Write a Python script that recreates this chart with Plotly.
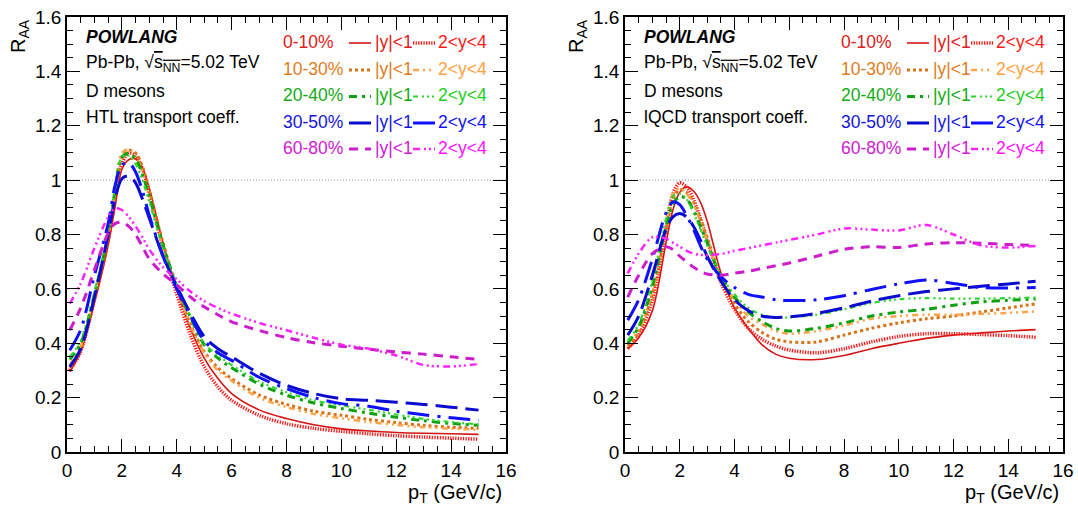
import plotly.graph_objects as go

# ---------------- data ----------------
pt = [0.1, 0.5, 1.0, 1.5, 1.75, 2.0, 2.25, 2.5, 2.75, 3.0, 3.5, 4.0, 4.5, 5.0, 5.5,
      6.0, 7.0, 8.0, 9.0, 10.0, 11.0, 12.0, 13.0, 14.0, 15.0]

# HTL transport coefficient (left panel)
htl_0_10_mid = [0.295, 0.37, 0.55, 0.76, 0.90, 1.04, 1.075, 1.078, 1.045, 0.97, 0.77, 0.60, 0.455, 0.345, 0.27,
                0.215, 0.155, 0.123, 0.10, 0.085, 0.077, 0.072, 0.069, 0.067, 0.065]
htl_0_10_fwd = [0.30, 0.37, 0.56, 0.78, 0.93, 1.06, 1.10, 1.09, 1.04, 0.95, 0.75, 0.58, 0.43, 0.314, 0.24,
                0.19, 0.135, 0.104, 0.087, 0.076, 0.067, 0.060, 0.055, 0.051, 0.047]
htl_10_30_mid = [0.31, 0.38, 0.57, 0.79, 0.95, 1.08, 1.11, 1.10, 1.05, 0.96, 0.77, 0.605, 0.47, 0.37, 0.31,
                 0.27, 0.21, 0.175, 0.15, 0.135, 0.12, 0.108, 0.098, 0.091, 0.087]
htl_10_30_fwd = [0.32, 0.39, 0.58, 0.80, 0.97, 1.10, 1.113, 1.09, 1.03, 0.94, 0.75, 0.60, 0.465, 0.365, 0.30,
                 0.262, 0.20, 0.165, 0.14, 0.124, 0.11, 0.10, 0.091, 0.086, 0.082]
htl_20_40_mid = [0.34, 0.40, 0.58, 0.80, 0.96, 1.085, 1.098, 1.08, 1.02, 0.94, 0.76, 0.61, 0.495, 0.395, 0.345,
                 0.31, 0.25, 0.209, 0.18, 0.16, 0.143, 0.128, 0.115, 0.105, 0.098]
htl_20_40_fwd = [0.35, 0.41, 0.59, 0.81, 0.97, 1.085, 1.09, 1.06, 1.00, 0.92, 0.75, 0.61, 0.50, 0.40, 0.355,
                 0.32, 0.26, 0.22, 0.19, 0.172, 0.155, 0.138, 0.122, 0.11, 0.102]
htl_30_50_mid = [0.313, 0.38, 0.57, 0.80, 0.93, 1.005, 1.015, 0.99, 0.93, 0.86, 0.72, 0.61, 0.51, 0.425, 0.38,
                 0.35, 0.29, 0.245, 0.215, 0.196, 0.19, 0.183, 0.175, 0.165, 0.154]
htl_30_50_fwd = [0.374, 0.45, 0.65, 0.84, 0.98, 1.055, 1.064, 1.03, 0.96, 0.87, 0.72, 0.60, 0.50, 0.41, 0.365,
                 0.337, 0.275, 0.233, 0.20, 0.178, 0.168, 0.15, 0.137, 0.126, 0.117]
htl_60_80_mid = [0.448, 0.53, 0.67, 0.805, 0.84, 0.845, 0.83, 0.80, 0.755, 0.71, 0.655, 0.615, 0.57, 0.534, 0.505,
                 0.479, 0.447, 0.421, 0.402, 0.389, 0.378, 0.368, 0.36, 0.35, 0.341]
htl_60_80_fwd = [0.546, 0.62, 0.75, 0.865, 0.896, 0.89, 0.865, 0.83, 0.79, 0.745, 0.68, 0.635, 0.59, 0.555, 0.53,
                 0.509, 0.475, 0.448, 0.42, 0.395, 0.38, 0.355, 0.32, 0.315, 0.323]

# lQCD transport coefficient (right panel)
lqcd_0_10_mid = [0.38, 0.42, 0.52, 0.77, 0.89, 0.955, 0.975, 0.96, 0.92, 0.85, 0.66, 0.53, 0.455, 0.395, 0.36,
                 0.345, 0.34, 0.355, 0.38, 0.40, 0.418, 0.43, 0.438, 0.445, 0.45]
lqcd_0_10_fwd = [0.38, 0.43, 0.56, 0.82, 0.95, 0.99, 0.975, 0.93, 0.86, 0.78, 0.625, 0.525, 0.455, 0.415, 0.39,
                 0.375, 0.365, 0.38, 0.405, 0.425, 0.435, 0.435, 0.432, 0.428, 0.422]
lqcd_10_30_mid = [0.39, 0.44, 0.58, 0.82, 0.93, 0.965, 0.955, 0.92, 0.86, 0.79, 0.64, 0.545, 0.48, 0.44, 0.415,
                  0.405, 0.405, 0.43, 0.455, 0.475, 0.49, 0.50, 0.515, 0.53, 0.545]
lqcd_10_30_fwd = [0.40, 0.45, 0.59, 0.84, 0.95, 0.97, 0.95, 0.91, 0.85, 0.78, 0.645, 0.56, 0.50, 0.47, 0.445,
                  0.435, 0.445, 0.465, 0.49, 0.50, 0.505, 0.505, 0.508, 0.512, 0.517]
lqcd_20_40_mid = [0.40, 0.46, 0.61, 0.83, 0.91, 0.94, 0.93, 0.89, 0.83, 0.77, 0.645, 0.57, 0.515, 0.48, 0.455,
                  0.445, 0.455, 0.475, 0.50, 0.515, 0.525, 0.54, 0.552, 0.558, 0.563]
lqcd_20_40_fwd = [0.41, 0.47, 0.63, 0.86, 0.94, 0.95, 0.93, 0.88, 0.82, 0.76, 0.65, 0.58, 0.53, 0.505, 0.495,
                  0.495, 0.505, 0.525, 0.548, 0.562, 0.566, 0.564, 0.564, 0.566, 0.568]
lqcd_30_50_mid = [0.43, 0.50, 0.65, 0.82, 0.865, 0.877, 0.865, 0.83, 0.78, 0.72, 0.63, 0.56, 0.52, 0.50, 0.495,
                  0.497, 0.51, 0.53, 0.555, 0.575, 0.59, 0.60, 0.61, 0.618, 0.628]
lqcd_30_50_fwd = [0.485, 0.56, 0.71, 0.88, 0.92, 0.91, 0.87, 0.82, 0.76, 0.71, 0.645, 0.605, 0.58, 0.57, 0.56,
                  0.557, 0.56, 0.575, 0.598, 0.618, 0.633, 0.62, 0.605, 0.603, 0.605]
lqcd_60_80_mid = [0.57, 0.65, 0.73, 0.755, 0.745, 0.72, 0.70, 0.68, 0.665, 0.655, 0.65, 0.658, 0.665, 0.675, 0.685,
                  0.695, 0.72, 0.745, 0.755, 0.752, 0.765, 0.77, 0.768, 0.763, 0.76]
lqcd_60_80_fwd = [0.657, 0.73, 0.79, 0.785, 0.77, 0.755, 0.74, 0.73, 0.725, 0.724, 0.728, 0.74, 0.75, 0.76, 0.77,
                  0.78, 0.80, 0.822, 0.818, 0.815, 0.835, 0.80, 0.76, 0.752, 0.758]

centralities = ["0-10%", "10-30%", "20-40%", "30-50%", "60-80%"]
rap_labels = ["|y|<1", "2<y<4"]
x_ticks = [0, 2, 4, 6, 8, 10, 12, 14, 16]
y_ticks = [0, 0.2, 0.4, 0.6, 0.8, 1.0, 1.2, 1.4, 1.6]
unity = 1.0

htl_curves = [(htl_0_10_mid, htl_0_10_fwd), (htl_10_30_mid, htl_10_30_fwd), (htl_20_40_mid, htl_20_40_fwd),
              (htl_30_50_mid, htl_30_50_fwd), (htl_60_80_mid, htl_60_80_fwd)]
lqcd_curves = [(lqcd_0_10_mid, lqcd_0_10_fwd), (lqcd_10_30_mid, lqcd_10_30_fwd), (lqcd_20_40_mid, lqcd_20_40_fwd),
               (lqcd_30_50_mid, lqcd_30_50_fwd), (lqcd_60_80_mid, lqcd_60_80_fwd)]

# ---------------- styles ----------------
styles = [
    (("#d41515", 1.6, "solid"), ("#ff1a1a", 3.5, "1.3px,1.3px")),
    (("#d77318", 3.0, "3px,3px"), ("#ffa448", 2.5, "6px,4px,2px,4px,2px,4px")),
    (("#0ea00e", 3.0, "8px,5px,3px,5px"), ("#2fd62f", 2.2, "5px,4px,2px,3px,2px,3px,2px,4px")),
    (("#0b0bd0", 3.0, "22px,8px"), ("#1010ff", 3.0, "22px,8px,3px,8px")),
    (("#cc1ccc", 3.0, "9px,7px"), ("#ff22ff", 2.5, "7px,4px,2px,3px,2px,3px,2px,4px")),
]
text_colors = [("#dd2020", "#ff1a1a"), ("#e07c22", "#ffa040"), ("#14aa14", "#22cc22"),
               ("#1515d8", "#1212f0"), ("#d020d0", "#ff10ff")]

FONT = "Liberation Sans, Arial, Helvetica, sans-serif"
W, H = 1078, 505


def px(x):
    return x / W


def py(y):
    return 1 - y / H


fig = go.Figure()

panels = [("x", "y", htl_curves), ("x2", "y2", lqcd_curves)]
for xa, ya, curves in panels:
    fig.add_trace(go.Scatter(x=[x_ticks[0], x_ticks[-1]], y=[unity, unity], mode="lines",
                             line=dict(color="#9a9a9a", width=1, dash="1px,2px"),
                             xaxis=xa, yaxis=ya, showlegend=False, hoverinfo="skip"))
    for i, (mid, fwd) in enumerate(curves):
        for j, vals in enumerate((mid, fwd)):
            c, w, d = styles[i][j]
            fig.add_trace(go.Scatter(x=pt, y=vals, mode="lines",
                                     line=dict(color=c, width=w, dash=d, shape="spline", smoothing=0.9),
                                     xaxis=xa, yaxis=ya, showlegend=False,
                                     name=centralities[i] + " " + rap_labels[j]))

# ---------------- layout ----------------
frame_l = [67, 625]
frame_r = [506, 1063]
frame_t, frame_b = 17, 452

axis_common = dict(
    showline=True, linecolor="black", linewidth=1.5, mirror="ticks",
    ticks="inside", ticklen=13, tickwidth=1.2, tickcolor="black",
    showgrid=False, zeroline=False, automargin=False,
    tickfont=dict(family=FONT, size=19, color="black"),
)

layout = dict(
    width=W, height=H, margin=dict(l=0, r=0, t=0, b=0, pad=0, autoexpand=False),
    paper_bgcolor="white", plot_bgcolor="white", showlegend=False,
)
for k in range(2):
    sx = "" if k == 0 else "2"
    layout["xaxis" + sx] = dict(axis_common, domain=[px(frame_l[k]), px(frame_r[k])], range=[0, 16],
                                tickvals=x_ticks, anchor="y" + sx,
                                minor=dict(dtick=0.5, ticklen=6, ticks="inside", tickcolor="black", tickwidth=1))
    layout["yaxis" + sx] = dict(axis_common, domain=[py(frame_b), py(frame_t)], range=[0, 1.6],
                                tickvals=y_ticks, anchor="x" + sx,
                                minor=dict(dtick=0.05, ticklen=6, ticks="inside", tickcolor="black", tickwidth=1))
fig.update_layout(**layout)

ann = []
shapes = []
info_lines = ["<b><i>POWLANG</i></b>",
              "Pb-Pb, √<span style='text-decoration:overline'>s<sub>NN</sub></span>=5.02 TeV",
              "D mesons"]
transport = ["HTL transport coeff.", "lQCD transport coeff."]
info_y = [37, 63, 91, 117]
row_y = [42, 69, 95.5, 122, 148]

for k in range(2):
    dx = frame_l[k] - frame_l[0]
    texts = info_lines + [transport[k]]
    for t, yy in zip(texts, info_y):
        ann.append(dict(text=t, x=px(84 + dx), y=py(yy), xref="paper", yref="paper",
                        xanchor="left", yanchor="middle", showarrow=False,
                        font=dict(family=FONT, size=17.5, color="black")))
    for i in range(5):
        yy = row_y[i]
        ann.append(dict(text=centralities[i], x=px(281 + dx), y=py(yy), xref="paper", yref="paper",
                        xanchor="left", yanchor="middle", showarrow=False,
                        font=dict(family=FONT, size=17.5, color=text_colors[i][0])))
        ann.append(dict(text=rap_labels[0], x=px(373 + dx), y=py(yy), xref="paper", yref="paper",
                        xanchor="left", yanchor="middle", showarrow=False,
                        font=dict(family=FONT, size=17.5, color=text_colors[i][0])))
        ann.append(dict(text=rap_labels[1], x=px(436 + dx), y=py(yy), xref="paper", yref="paper",
                        xanchor="left", yanchor="middle", showarrow=False,
                        font=dict(family=FONT, size=17.5, color=text_colors[i][1])))
        for j, (x0, x1) in enumerate([(349, 371), (413, 435)]):
            c, w, d = styles[i][j]
            shapes.append(dict(type="line", xref="paper", yref="paper",
                               x0=px(x0 + dx), x1=px(x1 + dx), y0=py(yy + 1), y1=py(yy + 1),
                               line=dict(color=c, width=w, dash=d)))
    ann.append(dict(text="R<sub>AA</sub>", x=px(19 + dx), y=py(17), xref="paper", yref="paper",
                    xanchor="center", yanchor="top", textangle=-90, showarrow=False,
                    font=dict(family=FONT, size=20, color="black")))
    ann.append(dict(text="p<sub>T</sub> (GeV/c)", x=px(frame_r[k] - 2), y=py(493), xref="paper", yref="paper",
                    xanchor="right", yanchor="middle", showarrow=False,
                    font=dict(family=FONT, size=20, color="black")))

fig.update_layout(annotations=ann, shapes=shapes)
fig.write_html("out.html",
               post_script="document.body.style.margin='0';document.body.style.overflow='hidden';")
